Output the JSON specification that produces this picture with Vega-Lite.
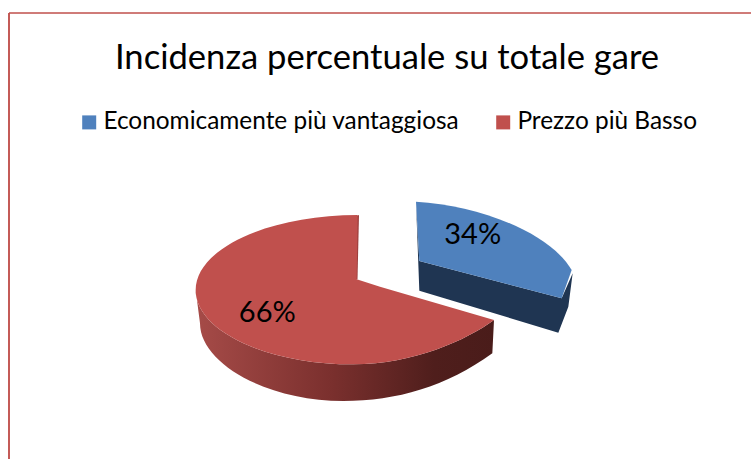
{
  "$schema": "https://vega.github.io/schema/vega-lite/v6.json",
  "width": 742,
  "height": 446,
  "autosize": "none",
  "padding": {"left": 9, "top": 13, "right": 0, "bottom": 0},
  "background": "white",
  "config": {"view": {"stroke": null}},
  "title": {
    "text": "Incidenza percentuale su totale gare",
    "font": "Lato",
    "fontSize": 34.6,
    "fontWeight": "normal",
    "color": "#000000",
    "anchor": "middle",
    "dy": 68,
    "dx": 7
  },
  "data": {
    "values": [
      {"tipo": "Economicamente più vantaggiosa", "quota": 0.34},
      {"tipo": "Prezzo più Basso", "quota": 0.66}
    ]
  },
  "layer": [
    {
      "mark": {"type": "rule", "color": "#c0504d", "strokeWidth": 1.5},
      "encoding": {"x": {"datum": 0, "type": "quantitative", "scale": {"domain": [0, 1]}, "axis": null}}
    },
    {
      "mark": {"type": "rule", "color": "#c0504d", "strokeWidth": 1},
      "encoding": {"y": {"datum": 1, "type": "quantitative", "scale": {"domain": [0, 1]}, "axis": null}}
    },
    {
      "transform": [{"filter": "datum.quota > 0.5"}],
      "mark": {
        "type": "point", "filled": true, "opacity": 1, "size": 4,
        "shape": "M-184.33,54 C-184.33,95 -113.33,128.33 -26.67,128.33 C33.33,128.33 86.67,104 114,84 L112.33,117.33 C66.67,150.67 16.67,165 -36.67,165 C-113.33,165 -180,127.33 -180,87.33 Z",
        "fill": {
          "gradient": "linear", "x1": 0, "y1": 0, "x2": 1, "y2": 0,
          "stops": [
            {"offset": 0, "color": "#a64b48"},
            {"offset": 0.45, "color": "#7b302e"},
            {"offset": 0.8, "color": "#4f1e1c"},
            {"offset": 1, "color": "#4a1c1a"}
          ]
        }
      }
    },
    {
      "transform": [{"filter": "datum.quota > 0.5"}],
      "mark": {
        "type": "point", "filled": true, "opacity": 1, "size": 4, "color": "#9c3f3d",
        "shape": "M-23.33,-20 L-21,-21 L-22.5,43.33 L-24.33,43.33 Z"
      }
    },
    {
      "transform": [{"filter": "datum.quota < 0.5"}],
      "mark": {
        "type": "point", "filled": true, "opacity": 1, "size": 4, "color": "#1f3552",
        "shape": "M36,-34.33 L39.33,54.67 L178.33,96.67 L188.33,70.67 L192.67,37.33 L181.67,62.33 L39.33,25 Z"
      }
    },
    {
      "transform": [{"filter": "datum.quota > 0.5"}],
      "mark": {
        "type": "point", "filled": true, "opacity": 1, "size": 4,
        "shape": "M-22.33,-21 C-111.33,-21 -184.33,12.67 -184.33,54 C-184.33,95 -113.33,128.33 -26.67,128.33 C33.33,128.33 86.67,104 114,84 L0,50.67 L-23.33,43.33 Z"
      },
      "encoding": {
        "color": {
          "field": "tipo", "type": "nominal",
          "scale": {"domain": ["Economicamente più vantaggiosa", "Prezzo più Basso"], "range": ["#4f81bd", "#c0504d"]},
          "legend": {
            "title": null, "orient": "none", "legendX": 68, "legendY": 97, "direction": "horizontal", "columns": 2,
            "symbolType": "square", "symbolSize": 196, "symbolOpacity": 1, "symbolStrokeWidth": 0,
            "labelFont": "Lato", "labelFontSize": 24.4, "labelColor": "#000000", "labelLimit": 450,
            "columnPadding": 31, "labelOffset": 2
          }
        }
      }
    },
    {
      "transform": [{"filter": "datum.quota < 0.5"}],
      "mark": {
        "type": "point", "filled": true, "opacity": 1, "size": 4,
        "shape": "M36,-34.33 C100,-31 170,-2.67 191.67,34 L181.67,62.33 L39.33,25 Z"
      },
      "encoding": {"color": {"field": "tipo", "type": "nominal"}}
    },
    {
      "transform": [{"filter": "datum.quota < 0.5"}],
      "mark": {"type": "text", "font": "Lato", "fontSize": 29, "color": "#000000", "dx": 92.7, "dy": -1},
      "encoding": {"text": {"field": "quota", "type": "quantitative", "format": ".0%"}}
    },
    {
      "transform": [{"filter": "datum.quota > 0.5"}],
      "mark": {"type": "text", "font": "Lato", "fontSize": 29, "color": "#000000", "dx": -112.7, "dy": 77},
      "encoding": {"text": {"field": "quota", "type": "quantitative", "format": ".0%"}}
    }
  ]
}
